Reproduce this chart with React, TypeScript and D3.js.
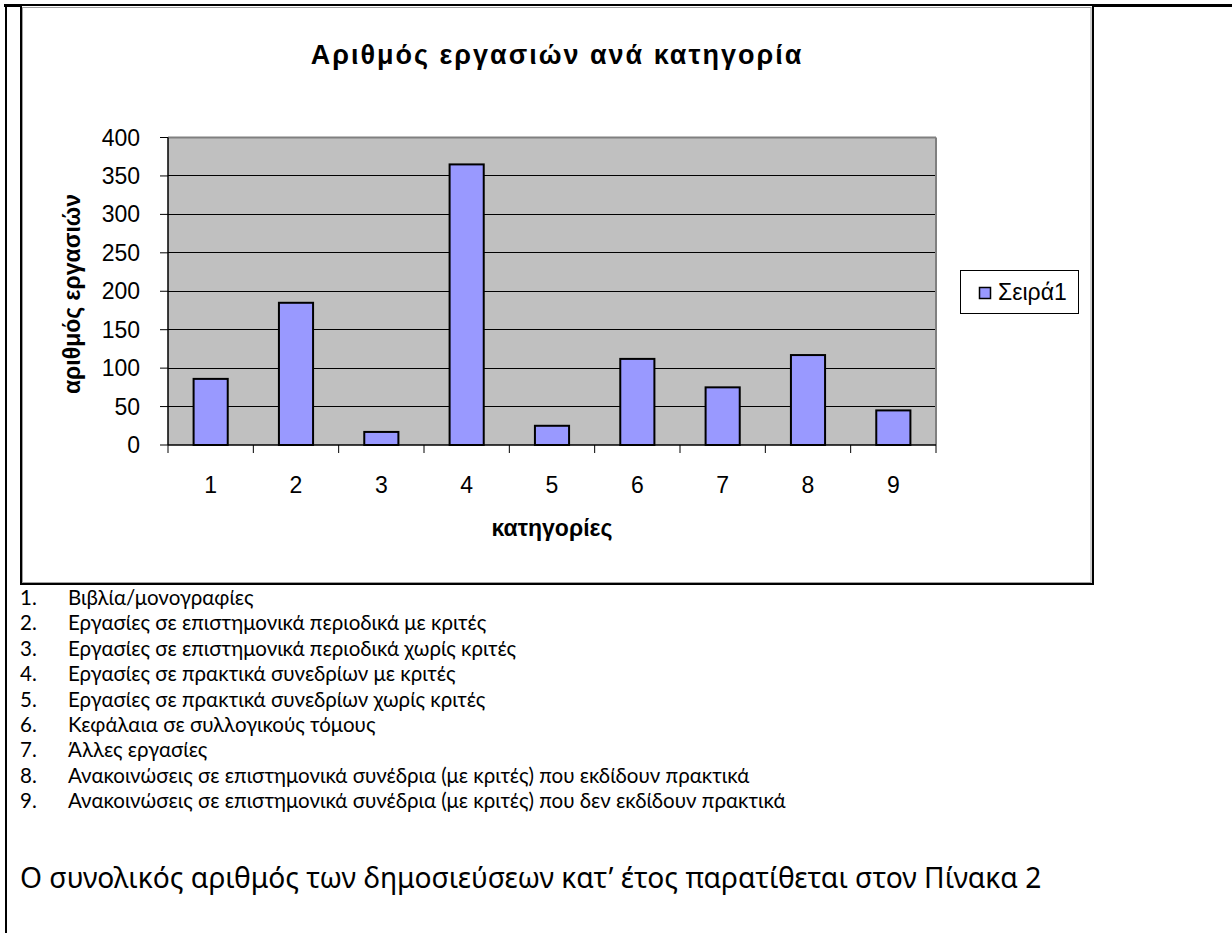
import React from 'react';
import * as d3 from 'd3';

// chart data
const categories = ['1', '2', '3', '4', '5', '6', '7', '8', '9'];
const values = [86, 185, 17, 365, 25, 112, 75, 117, 45];
const yTicks = [0, 50, 100, 150, 200, 250, 300, 350, 400];
const seriesName = 'Σειρά1';
const chartTitle = 'Αριθμός εργασιών ανά κατηγορία';
const xTitle = 'κατηγορίες';
const yTitle = 'αριθμός εργασιών';

// text under the chart
const listItems = [
  'Βιβλία/μονογραφίες',
  'Εργασίες σε επιστημονικά περιοδικά με κριτές',
  'Εργασίες σε επιστημονικά περιοδικά χωρίς κριτές',
  'Εργασίες σε πρακτικά συνεδρίων με κριτές',
  'Εργασίες σε πρακτικά συνεδρίων χωρίς κριτές',
  'Κεφάλαια σε συλλογικούς τόμους',
  'Άλλες εργασίες',
  'Ανακοινώσεις σε επιστημονικά συνέδρια (με κριτές) που εκδίδουν πρακτικά',
  'Ανακοινώσεις σε επιστημονικά συνέδρια (με κριτές) που δεν εκδίδουν πρακτικά',
];
const closingLine = 'Ο συνολικός αριθμός των δημοσιεύσεων κατ’ έτος παρατίθεται στον Πίνακα 2';

const W = 1232;
const H = 933;
const plot = { left: 168, right: 936, top: 137.5, bottom: 445 };
const chartFont = '"Liberation Sans", Arial, sans-serif';

export default function App() {
  const x = d3
    .scaleBand()
    .domain(categories)
    .range([plot.left, plot.right])
    .paddingInner(0.6)
    .paddingOuter(0.3);

  const y = d3.scaleLinear().domain([0, 400]).range([plot.bottom, plot.top]);

  // category boundaries for the x tick marks
  const boundaries = d3.range(categories.length + 1).map((i) => plot.left + i * x.step());

  const listY = d3.scaleLinear().domain([0, 1]).range([605, 630.4]);

  return (
    <div style={{ position: 'absolute', left: 0, top: 0, width: W, height: H, background: '#fff' }}>
      <svg width={W} height={H} style={{ display: 'block' }}>
        <rect width={W} height={H} fill="#fff" />

        {/* page frame */}
        <line x1={4} x2={W} y1={5.5} y2={5.5} stroke="#000" strokeWidth={3} />
        <line x1={6} x2={6} y1={4} y2={H} stroke="#000" strokeWidth={2} />

        {/* chart frame */}
        <rect x={21} y={5} width={1072} height={579} fill="#fff" stroke="#000" strokeWidth={2} />
        <rect x={22.5} y={7.5} width={1068.5} height={575} fill="none" stroke="#a0a0a0" strokeWidth={1} />

        {/* title */}
        <text
          x={557}
          y={64}
          textAnchor="middle"
          fontFamily={chartFont}
          fontSize={27}
          fontWeight="bold"
          letterSpacing={2}
          fill="#000"
        >
          {chartTitle}
        </text>

        {/* plot background */}
        <rect
          x={plot.left}
          y={plot.top}
          width={plot.right - plot.left}
          height={plot.bottom - plot.top}
          fill="#c0c0c0"
        />

        {/* gridlines */}
        {yTicks.filter((t) => t > 0 && t < 400).map((t) => (
          <line
            key={'g' + t}
            x1={plot.left}
            x2={plot.right}
            y1={y(t)}
            y2={y(t)}
            stroke="#000"
            strokeWidth={1}
            shapeRendering="crispEdges"
          />
        ))}

        {/* top and right edges of plot */}
        <line x1={plot.left} x2={plot.right} y1={plot.top} y2={plot.top} stroke="#808080" strokeWidth={2} />
        <line x1={plot.right} x2={plot.right} y1={plot.top} y2={plot.bottom} stroke="#808080" strokeWidth={2} />

        {/* bars */}
        {values.map((v, i) => (
          <rect
            key={'b' + i}
            x={x(categories[i])}
            y={y(v)}
            width={x.bandwidth()}
            height={y(0) - y(v)}
            fill="#9999ff"
            stroke="#000"
            strokeWidth={2}
          />
        ))}

        {/* axes */}
        <line x1={plot.left} x2={plot.left} y1={plot.top} y2={plot.bottom} stroke="#000" strokeWidth={1.5} />
        <line x1={plot.left} x2={plot.right} y1={plot.bottom} y2={plot.bottom} stroke="#000" strokeWidth={1.5} />

        {yTicks.map((t) => (
          <g key={'yt' + t}>
            <line x1={plot.left - 8} x2={plot.left} y1={y(t)} y2={y(t)} stroke="#000" strokeWidth={1} />
            <text
              x={140}
              y={y(t)}
              dy="0.35em"
              textAnchor="end"
              fontFamily={chartFont}
              fontSize={23}
              fill="#000"
            >
              {t}
            </text>
          </g>
        ))}

        {boundaries.map((bx, i) => (
          <line key={'xt' + i} x1={bx} x2={bx} y1={plot.bottom} y2={plot.bottom + 8} stroke="#000" strokeWidth={1} />
        ))}

        {categories.map((c) => (
          <text
            key={'xl' + c}
            x={(x(c) as number) + x.bandwidth() / 2}
            y={493}
            textAnchor="middle"
            fontFamily={chartFont}
            fontSize={23}
            fill="#000"
          >
            {c}
          </text>
        ))}

        {/* axis titles */}
        <text
          x={(plot.left + plot.right) / 2}
          y={536}
          textAnchor="middle"
          fontFamily={chartFont}
          fontSize={23}
          fontWeight="bold"
          fill="#000"
        >
          {xTitle}
        </text>
        <text
          transform={`translate(80, 294) rotate(-90)`}
          textAnchor="middle"
          fontFamily={chartFont}
          fontSize={23}
          fontWeight="bold"
          fill="#000"
        >
          {yTitle}
        </text>

        {/* legend */}
        <rect x={960.5} y={270.5} width={118} height={43} fill="#fff" stroke="#000" strokeWidth={1} />
        <rect x={979.5} y={287.5} width={11} height={11} fill="#9999ff" stroke="#000" strokeWidth={1.5} />
        <text x={998} y={300} fontFamily={chartFont} fontSize={23} fill="#000">
          {seriesName}
        </text>

        {/* numbered list */}
        {listItems.map((item, i) => (
          <g key={'li' + i} fontFamily="Lato, 'Noto Sans', sans-serif" fontSize={20.5} fill="#000">
            <text x={20} y={listY(i)}>{`${i + 1}.`}</text>
            <text x={68} y={listY(i)}>{item}</text>
          </g>
        ))}

        <text x={20} y={888} fontFamily="'Noto Sans', 'Open Sans', sans-serif" fontSize={28.2} fill="#000">
          {closingLine}
        </text>
      </svg>
    </div>
  );
}
